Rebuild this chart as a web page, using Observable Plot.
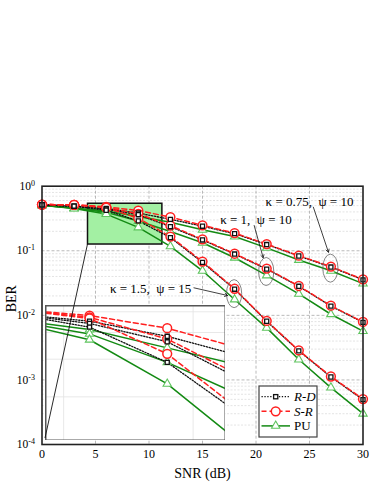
<!DOCTYPE html>
<html><head><meta charset="utf-8">
<script src="https://cdn.jsdelivr.net/npm/d3@7"></script>
<script src="https://cdn.jsdelivr.net/npm/@observablehq/plot@0.6"></script>
<style>
body{margin:0;background:#fff;}
#wrap{position:relative;width:374px;height:484px;font-family:"Liberation Serif","Times New Roman",serif;}
#wrap svg{position:absolute;left:0;top:0;}
</style></head><body><div id="wrap"></div>
<script>
// ---- data ----
const snr = [0, 3, 6, 9, 12, 15, 18, 21, 24, 27, 30];
const cases = ["κ = 0.75,  ψ = 10", "κ = 1,  ψ = 10", "κ = 1.5,  ψ = 15"];
const links = ["R-D", "S-R", "PU"];
// kappa = 0.75, psi = 10
const rdA = [0.515, 0.49, 0.452, 0.384, 0.307, 0.240, 0.184, 0.125, 0.083, 0.056, 0.0355];
const srA = [0.52, 0.515, 0.480, 0.419, 0.333, 0.248, 0.188, 0.127, 0.084, 0.057, 0.036];
const puA = [0.505, 0.46, 0.413, 0.339, 0.277, 0.211, 0.166, 0.111, 0.072, 0.049, 0.031];
// kappa = 1, psi = 10
const rdB = [0.515, 0.49, 0.441, 0.362, 0.236, 0.147, 0.089, 0.052, 0.0282, 0.0139, 0.0078];
const srB = [0.52, 0.515, 0.471, 0.373, 0.245, 0.150, 0.090, 0.053, 0.0285, 0.0141, 0.0079];
const puB = [0.505, 0.455, 0.394, 0.290, 0.199, 0.133, 0.078, 0.0415, 0.0215, 0.0104, 0.0057];
// kappa = 1.5, psi = 15
const rdC = [0.515, 0.49, 0.424, 0.290, 0.160, 0.066, 0.0254, 0.0081, 0.00282, 0.00111, 0.000495];
const srC = [0.52, 0.515, 0.465, 0.318, 0.166, 0.068, 0.0258, 0.0082, 0.00286, 0.00113, 0.000505];
const puC = [0.505, 0.45, 0.370, 0.230, 0.117, 0.049, 0.0176, 0.0064, 0.00207, 0.00076, 0.0003];

const xTicks = [0, 5, 10, 15, 20, 25, 30];
const yTicks = [1e-4, 1e-3, 1e-2, 1e-1, 1];
const xGrid = [5, 10, 15, 20, 25];
const yGrid = [1e-3, 1e-2, 1e-1];
const yMinor = [1e-4, 1e-3, 1e-2, 1e-1].flatMap(d => [2,3,4,5,6,7,8,9].map(m => m * d));
const zoomBox = {x1: 4.3, x2: 11.25, y1: 0.125, y2: 0.535};
const insetGridY = [0.2, 0.3, 0.4, 0.5];
const insetGridX = [5, 10];
// annotation: label position, arrow start/end, highlighted snr index
const annots = [
  {label: cases[0], tx: 25.0, ty: 0.565, x1: 25.36, y1: 0.473, x2: 26.77, y2: 0.095, idx: 9, c: 0},
  {label: cases[1], tx: 20.0, ty: 0.302, x1: 19.83, y1: 0.246, x2: 20.67, y2: 0.078, idx: 7, c: 1},
  {label: cases[2], tx: 10.15, ty: 0.0258, x1: 14.2, y1: 0.0267, x2: 17.34, y2: 0.0203, idx: 6, c: 2}
];

const table = [[rdA, srA, puA], [rdB, srB, puB], [rdC, srC, puC]];
const rows = [];
table.forEach((set, c) => set.forEach((vals, l) => vals.forEach((v, i) =>
  rows.push({snr: snr[i], ber: v, link: links[l], c}))));
const sel = l => rows.filter(d => d.link === l);

const RED = "#ff1f1f", GREEN = "#138a13", LGREEN = "#5ec45e";
const serif = "'Liberation Serif','Times New Roman',serif";

function seriesMarks(clip) {
  return [
    Plot.line(sel("PU"), {x: "snr", y: "ber", z: "c", stroke: GREEN, strokeWidth: 1.5, clip}),
    Plot.line(sel("R-D"), {x: "snr", y: "ber", z: "c", stroke: "#111", strokeWidth: 1.3, strokeDasharray: "1.3,1.6", clip}),
    Plot.line(sel("S-R"), {x: "snr", y: "ber", z: "c", stroke: RED, strokeWidth: 1.5, strokeDasharray: "5,3", clip}),
    Plot.dot(sel("PU"), {x: "snr", y: "ber", symbol: "triangle", r: 3.1, stroke: LGREEN, fill: "white", strokeWidth: 1.1, clip}),
    Plot.dot(sel("S-R"), {x: "snr", y: "ber", symbol: "circle", r: 4.4, stroke: RED, fill: "white", strokeWidth: 1.5, clip}),
    Plot.dot(sel("R-D"), {x: "snr", y: "ber", symbol: "square", r: 2.3, stroke: "#111", fill: "white", strokeWidth: 1.3, clip})
  ];
}

const W = 374, H = 484, mL = 41.5, mR = 11.5, mT = 185.7, mB = 40;

const ellipses = (index, scales) => {
  const g = d3.create("svg:g");
  for (const a of annots) {
    const set = table[a.c];
    const yc = Math.sqrt(set[1][a.idx] * set[2][a.idx]);
    g.append("ellipse")
      .attr("cx", scales.x(snr[a.idx])).attr("cy", scales.y(yc))
      .attr("rx", 7.6).attr("ry", 14)
      .attr("fill", "none").attr("stroke", "#666").attr("stroke-width", 0.8);
  }
  return g.node();
};

const main = Plot.plot({
  width: W, height: H,
  marginLeft: mL, marginRight: mR, marginTop: mT, marginBottom: mB,
  x: {domain: [0, 30]},
  y: {type: "log", domain: [1e-4, 1]},
  style: {fontFamily: serif, fontSize: "12px", background: "white", color: "black"},
  marks: [
    Plot.ruleY(yMinor, {stroke: "#d9d9d9", strokeWidth: 0.7, strokeDasharray: "2,1.5"}),
    Plot.ruleY(yGrid, {stroke: "#a8a8a8", strokeWidth: 0.8, strokeDasharray: "3,2"}),
    Plot.ruleX(xGrid, {stroke: "#a8a8a8", strokeWidth: 0.8, strokeDasharray: "3,2"}),
    Plot.rect([zoomBox], {x1: "x1", x2: "x2", y1: "y1", y2: "y2", fill: "#a3f0a3", stroke: "#111", strokeWidth: 1.5}),
    ...seriesMarks(false),
    ellipses,
    Plot.arrow(annots, {x1: "x1", y1: "y1", x2: "x2", y2: "y2", stroke: "#111", strokeWidth: 0.8, headLength: 6}),
    Plot.text(annots, {x: "tx", y: "ty", text: "label", fontSize: 13, fill: "black", ariaLabel: "annot"}),
    Plot.frame({stroke: "#222", strokeWidth: 1.6}),
    Plot.axisX({ticks: xTicks, tickSize: 0, tickPadding: 5, label: null, fontSize: 12}),
    Plot.axisY({ticks: yTicks, tickSize: 0, tickPadding: 7, label: null, fontSize: 11.5,
      tickFormat: d => `10^${Math.round(Math.log10(d))}`}),
    Plot.text(["SNR (dB)"], {frameAnchor: "bottom", dy: 29, lineAnchor: "middle", fontSize: 14}),
    Plot.text(["BER"], {frameAnchor: "left", dx: -30.5, dy: -3, rotate: -90, lineAnchor: "middle", fontSize: 14})
  ]
});

// superscript exponents on y tick labels
d3.select(main).selectAll('g[aria-label="y-axis tick label"] text').each(function() {
  const m = this.textContent.match(/^10\^(-?\d+)$/);
  if (!m) return;
  this.textContent = "10";
  d3.select(this).append("tspan").attr("dy", "-0.5em").attr("font-size", "8px")
    .text(m[1].replace("-", "-"));
});
// italic Greek letters in annotations
d3.select(main).selectAll('g[aria-label="annot"] text').each(function() {
  const parts = this.textContent.split(/([κψ])/);
  this.textContent = "";
  const t = d3.select(this);
  for (const p of parts) {
    if (!p) continue;
    const s = t.append("tspan").text(p);
    if (p === "κ" || p === "ψ") s.attr("font-style", "italic");
  }
  t.attr("xml:space", "preserve").style("white-space", "pre");
});

const wrap = document.getElementById("wrap");
wrap.appendChild(main);

// inset
const inL = 45, inT = 305, inW = 180, inH = 135;
const inset = Plot.plot({
  width: inW, height: inH, margin: 0,
  x: {domain: [zoomBox.x1, zoomBox.x2], axis: null},
  y: {type: "log", domain: [zoomBox.y1, zoomBox.y2], axis: null},
  style: {background: "white"},
  marks: [
    Plot.ruleY(insetGridY, {stroke: "#e2e2e2", strokeWidth: 0.8}),
    Plot.ruleX(insetGridX, {stroke: "#e2e2e2", strokeWidth: 0.8}),
    ...seriesMarks(true),
    Plot.frame({stroke: "#555", strokeWidth: 2})
  ]
});
inset.style.left = inL + "px";
inset.style.top = inT + "px";
wrap.appendChild(inset);

// overlay: connector + legend (same scales as main plot)
const sx = d3.scaleLinear([0, 30], [mL, W - mR]);
const sy = d3.scaleLog([1e-4, 1], [H - mB, mT]);
const ov = d3.create("svg").attr("width", W).attr("height", H)
  .style("pointer-events", "none").attr("font-family", serif);
ov.append("line")
  .attr("x1", sx(zoomBox.x1)).attr("y1", sy(zoomBox.y1))
  .attr("x2", inL).attr("y2", inT + inH - 2)
  .attr("stroke", "#111").attr("stroke-width", 0.9);

const lg = ov.append("g").attr("transform", "translate(259,386)");
lg.append("rect").attr("width", 58).attr("height", 51).attr("fill", "white")
  .attr("stroke", "#444").attr("stroke-width", 1.2);
const items = [
  {label: "R-D", italic: true, stroke: "#111", dash: "1.3,1.6", sym: "square"},
  {label: "S-R", italic: true, stroke: RED, dash: "5,3", sym: "circle"},
  {label: "PU", italic: false, stroke: GREEN, dash: null, sym: "triangle"}
];
items.forEach((it, i) => {
  const y = 10.7 + i * 14.6;
  lg.append("line").attr("x1", 2.5).attr("x2", 31).attr("y1", y).attr("y2", y)
    .attr("stroke", it.stroke).attr("stroke-width", it.sym === "square" ? 1.3 : 1.5)
    .attr("stroke-dasharray", it.dash);
  const cx = 16.7;
  if (it.sym === "square") lg.append("rect").attr("x", cx - 2.1).attr("y", y - 2.1).attr("width", 4.2).attr("height", 4.2)
    .attr("fill", "white").attr("stroke", "#111").attr("stroke-width", 1.3);
  if (it.sym === "circle") lg.append("circle").attr("cx", cx).attr("cy", y).attr("r", 4.4)
    .attr("fill", "white").attr("stroke", RED).attr("stroke-width", 1.5);
  if (it.sym === "triangle") lg.append("path").attr("d", d3.symbol(d3.symbolTriangle, Math.PI * 3.1 * 3.1)())
    .attr("transform", `translate(${cx},${y})`).attr("fill", "white").attr("stroke", LGREEN).attr("stroke-width", 1.1);
  lg.append("text").attr("x", 35).attr("y", y).attr("dy", "0.35em").attr("font-size", 13)
    .attr("font-style", it.italic ? "italic" : null).text(it.label);
});
wrap.appendChild(ov.node());
</script></body></html>
